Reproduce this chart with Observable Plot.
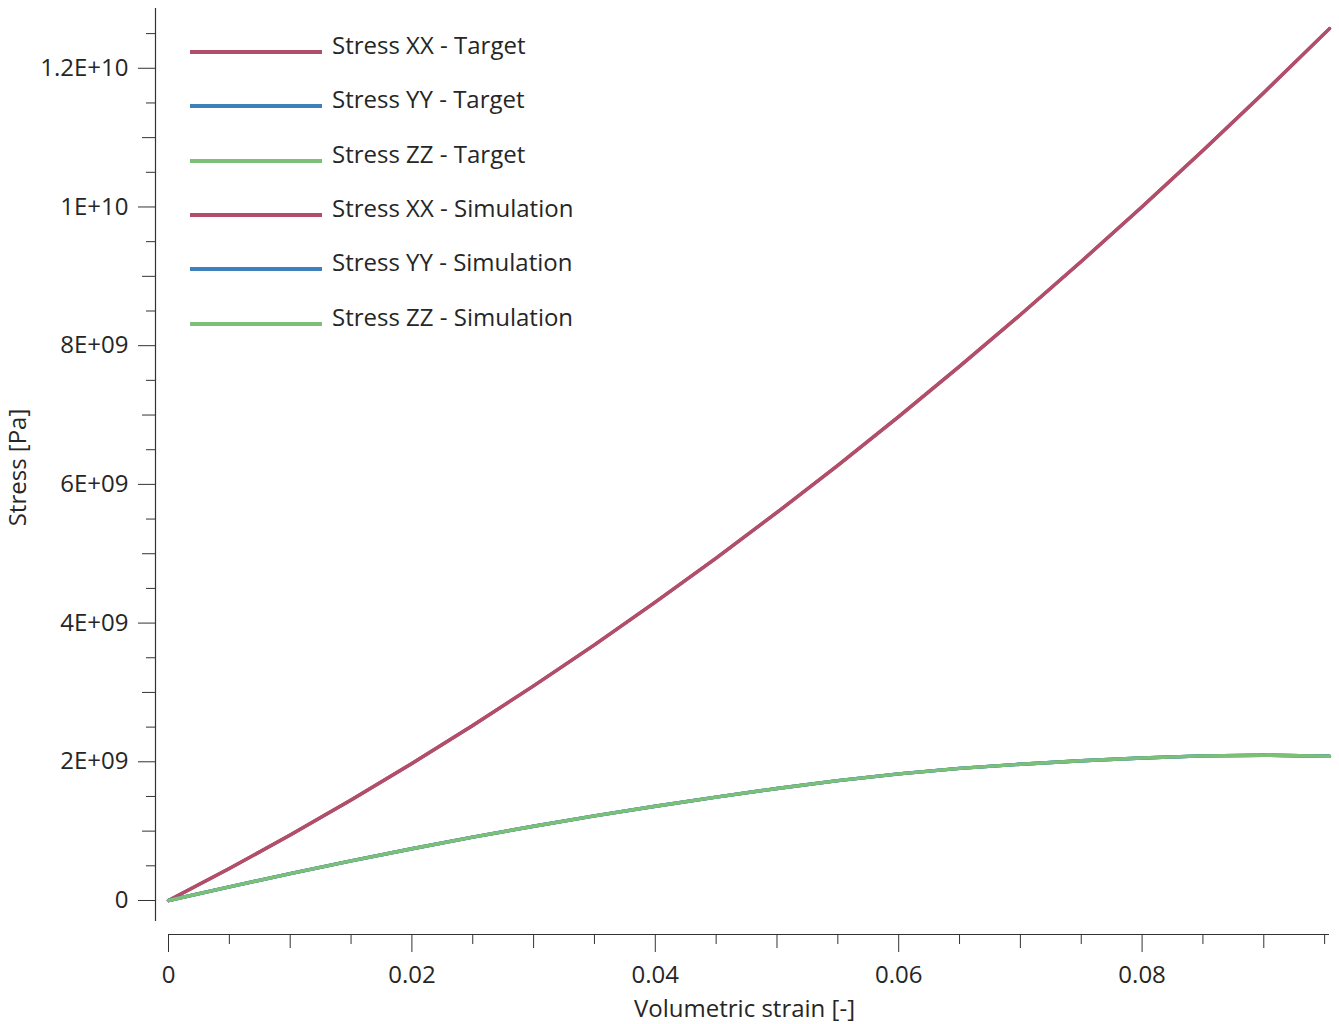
<!DOCTYPE html>
<html><head><meta charset="utf-8">
<script src="https://cdn.jsdelivr.net/npm/d3@7"></script>
<script src="https://cdn.jsdelivr.net/npm/@observablehq/plot@0.6"></script>
<style>
body{margin:0;background:#fff;}
#wrap{position:relative;width:1339px;height:1024px;font-family:"Open Sans",sans-serif;color:#262626;}
.sw{position:absolute;height:4px;width:132px;}
.lt{position:absolute;font-size:24px;line-height:1;white-space:nowrap;color:#262626;}
</style></head><body><div id="wrap"></div>
<script>
// Volumetric strain [-]
const strain = [0, 0.005, 0.01, 0.015, 0.02, 0.025, 0.03, 0.035, 0.04, 0.045, 0.05, 0.055, 0.06, 0.065, 0.07, 0.075, 0.08, 0.085, 0.09, 0.0954];
// Stress [Pa]
const stressXXTarget = [0, 0.461e9, 0.944e9, 1.449e9, 1.975e9, 2.524e9, 3.094e9, 3.687e9, 4.301e9, 4.937e9, 5.595e9, 6.275e9, 6.977e9, 7.701e9, 8.446e9, 9.214e9, 10.003e9, 10.815e9, 11.648e9, 12.572e9];
const stressYYTarget = [0, 0.197e9, 0.387e9, 0.570e9, 0.746e9, 0.913e9, 1.071e9, 1.220e9, 1.359e9, 1.490e9, 1.615e9, 1.728e9, 1.825e9, 1.905e9, 1.965e9, 2.015e9, 2.055e9, 2.085e9, 2.095e9, 2.080e9];
const stressZZTarget = [0, 0.197e9, 0.387e9, 0.570e9, 0.746e9, 0.913e9, 1.071e9, 1.220e9, 1.359e9, 1.490e9, 1.615e9, 1.728e9, 1.825e9, 1.905e9, 1.965e9, 2.015e9, 2.055e9, 2.085e9, 2.095e9, 2.080e9];
const stressXXSimulation = [0, 0.461e9, 0.944e9, 1.449e9, 1.975e9, 2.524e9, 3.094e9, 3.687e9, 4.301e9, 4.937e9, 5.595e9, 6.275e9, 6.977e9, 7.701e9, 8.446e9, 9.214e9, 10.003e9, 10.815e9, 11.648e9, 12.572e9];
const stressYYSimulation = [0, 0.197e9, 0.387e9, 0.570e9, 0.746e9, 0.913e9, 1.071e9, 1.220e9, 1.359e9, 1.490e9, 1.615e9, 1.728e9, 1.825e9, 1.905e9, 1.965e9, 2.015e9, 2.055e9, 2.085e9, 2.095e9, 2.080e9];
const stressZZSimulation = [0, 0.197e9, 0.387e9, 0.570e9, 0.746e9, 0.913e9, 1.071e9, 1.220e9, 1.359e9, 1.490e9, 1.615e9, 1.728e9, 1.825e9, 1.905e9, 1.965e9, 2.015e9, 2.055e9, 2.085e9, 2.095e9, 2.080e9];

const seriesNames = ["Stress XX - Target", "Stress YY - Target", "Stress ZZ - Target", "Stress XX - Simulation", "Stress YY - Simulation", "Stress ZZ - Simulation"];
const seriesValues = [stressXXTarget, stressYYTarget, stressZZTarget, stressXXSimulation, stressYYSimulation, stressZZSimulation];
const seriesColors = ["#b14f6b", "#3d80bb", "#7bbf79", "#b14f6b", "#3d80bb", "#7bbf79"];

const xMajorTicks = [0, 0.02, 0.04, 0.06, 0.08];
const xMajorLabels = ["0", "0.02", "0.04", "0.06", "0.08"];
const xMediumTicks = [0.01, 0.03, 0.05, 0.07, 0.09];
const xMinorTicks = [0.005, 0.015, 0.025, 0.035, 0.045, 0.055, 0.065, 0.075, 0.085, 0.095];
const yMajorTicks = [0, 2e9, 4e9, 6e9, 8e9, 10e9, 12e9];
const yMajorLabels = ["0", "2E+09", "4E+09", "6E+09", "8E+09", "1E+10", "1.2E+10"];
const yMediumTicks = [1e9, 3e9, 5e9, 7e9, 9e9, 11e9];
const yMinorTicks = [0.5e9, 1.5e9, 2.5e9, 3.5e9, 4.5e9, 5.5e9, 6.5e9, 7.5e9, 8.5e9, 9.5e9, 10.5e9, 11.5e9, 12.5e9];

const xDomain = [0, 0.0954];
const yDomain = [-0.303e9, 12.862e9];

const rows = seriesValues.map((vals, k) => strain.map((s, i) => ({strain: s, stress: vals[i], k})));
const ink = "#333";

const lineMarks = rows.map((r, k) => Plot.line(r, {x: "strain", y: "stress", stroke: seriesColors[k], strokeWidth: 3.4, z: null}));

const chart = Plot.plot({
  width: 1339,
  height: 1024,
  marginLeft: 155,
  marginRight: 10,
  marginTop: 8,
  marginBottom: 90,
  style: {fontFamily: '"Open Sans", sans-serif', fontSize: "24px", color: "#262626", background: "#fff"},
  x: {domain: xDomain, range: [168, 1329]},
  y: {domain: yDomain, range: [921, 8]},
  marks: [
    Plot.ruleX([xDomain[0]], {y1: yDomain[0], y2: yDomain[1], dx: -13, stroke: ink, strokeWidth: 1.2}),
    Plot.ruleY([yDomain[0]], {x1: xDomain[0], x2: xDomain[1], dy: 13, stroke: ink, strokeWidth: 1.2}),
    Plot.axisY({ticks: yMajorTicks, tickSize: 17, tickPadding: 10, stroke: ink, tickFormat: d => yMajorLabels[yMajorTicks.indexOf(d)], label: null, fill: "#262626"}),
    Plot.axisY({ticks: yMediumTicks, tickSize: 13, stroke: ink, tickFormat: () => "", label: null}),
    Plot.axisY({ticks: yMinorTicks, tickSize: 9, stroke: ink, tickFormat: () => "", label: null}),
    Plot.axisX({ticks: xMajorTicks, tickSize: 18, tickPadding: 13, stroke: ink, tickFormat: d => xMajorLabels[xMajorTicks.indexOf(d)], label: null, fill: "#262626"}),
    Plot.axisX({ticks: xMediumTicks, tickSize: 14, stroke: ink, tickFormat: () => "", label: null}),
    Plot.axisX({ticks: xMinorTicks, tickSize: 10, stroke: ink, tickFormat: () => "", label: null}),
    Plot.text(["Volumetric strain [-]"], {frameAnchor: "bottom", dy: 75, dx: 2, lineAnchor: "middle", fill: "#262626", fontSize: 24}),
    Plot.text(["Stress [Pa]"], {frameAnchor: "left", rotate: -90, textAnchor: "middle", dx: -137, dy: -4, lineAnchor: "middle", fill: "#262626", fontSize: 24}),
    ...lineMarks
  ]
});

const wrap = document.getElementById("wrap");
wrap.appendChild(chart);
chart.style.position = "absolute";
chart.style.left = "0";
chart.style.top = "0";

seriesNames.forEach((name, i) => {
  const yc = 52 + i * 54.3;
  const sw = document.createElement("div");
  sw.className = "sw";
  sw.style.left = "190px";
  sw.style.top = (yc - 2) + "px";
  sw.style.background = seriesColors[i];
  wrap.appendChild(sw);
  const t = document.createElement("div");
  t.className = "lt";
  t.style.left = "332px";
  t.style.top = (yc - 19) + "px";
  t.textContent = name;
  wrap.appendChild(t);
});
</script>
</body></html>
